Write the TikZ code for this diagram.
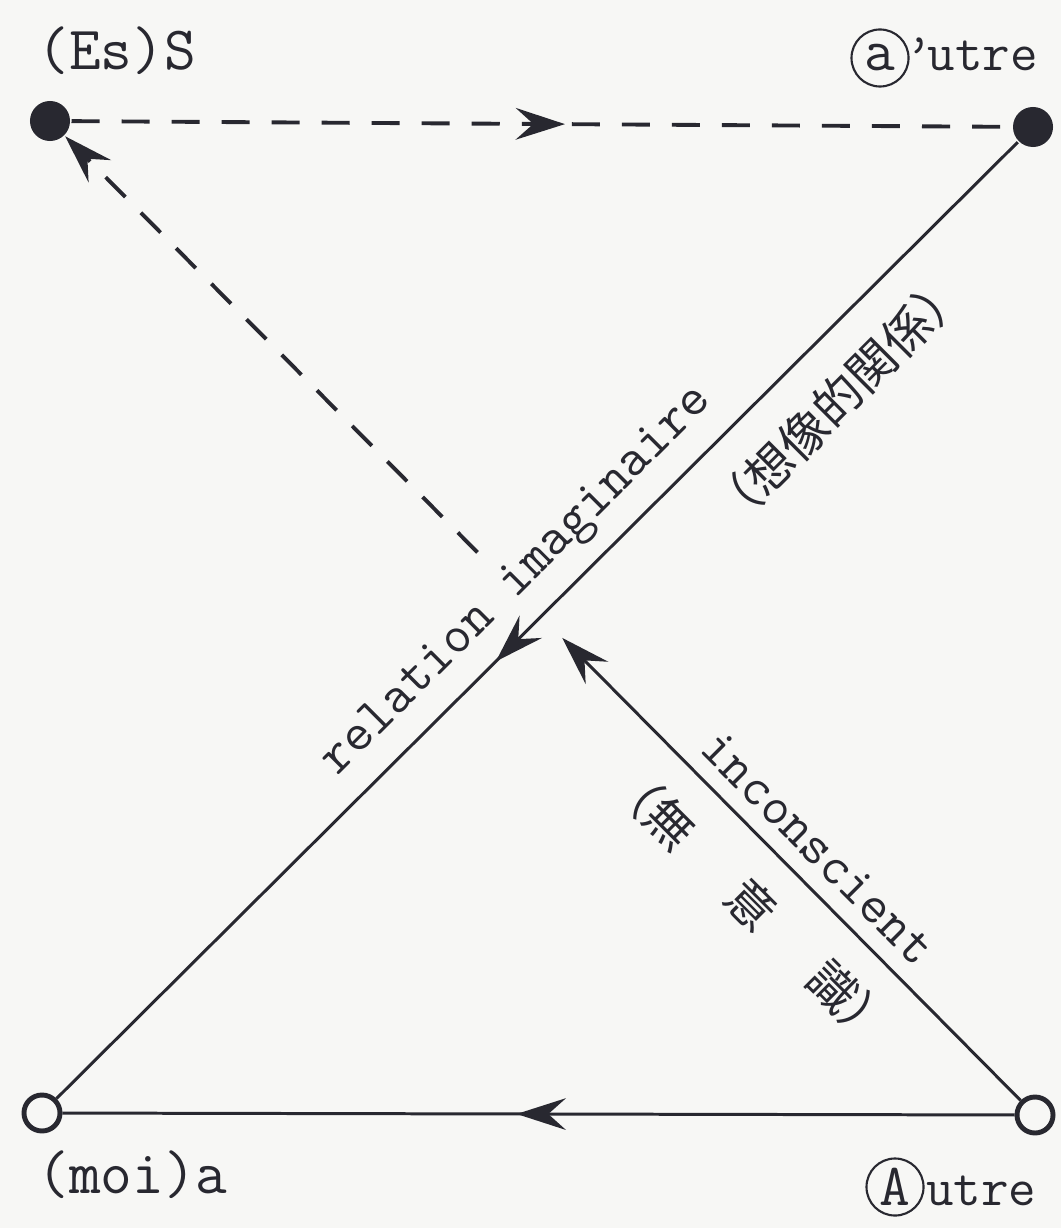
\documentclass[tikz,border=0pt]{standalone}
\usepackage{fontspec}
\newfontfamily\jfont{Noto Sans CJK JP}
\usetikzlibrary{arrows.meta,decorations.markings,calc}
\definecolor{ink}{RGB}{40,40,48}
\definecolor{paper}{RGB}{247,247,245}

\begin{document}
\begin{tikzpicture}[x=0.01cm, y=-0.01cm, line width=0.85pt, color=ink,
	dotfull/.style={circle, fill=ink, minimum size=0.4cm, inner sep=0pt},
	dotopen/.style={circle, draw=ink, line width=1.4pt, minimum size=0.36cm, inner sep=0pt},
	ring/.style={circle, draw=ink, line width=0.6pt, minimum size=0.57cm, inner sep=0pt,
		font=\fontsize{17}{20}\selectfont\ttfamily},
	corner/.style={font=\fontsize{17.5}{20}\selectfont\ttfamily, inner sep=0pt},
	ringword/.style={font=\fontsize{15.2}{18}\selectfont\ttfamily, inner sep=0pt},
	lineword/.style={font=\fontsize{15.4}{18}\selectfont\ttfamily, inner sep=0pt},
	kanji/.style={font=\fontsize{13.7}{16}\selectfont\jfont, inner sep=0pt},
	dashline/.style={dash pattern=on 0.28cm off 0.22cm, line width=1.1pt},
	barb/.tip={Stealth[length=14pt, width=9pt, inset=5pt]},
	midarrow/.style={postaction={decorate},
		decoration={markings, mark=at position #1 with {\arrow{barb}}}}]
	\fill[paper] (0,0) rectangle (1061,1228);
	\useasboundingbox (0,0) rectangle (1061,1228);
	% the four corners
	\node[dotfull] (S) at (50,121) {};
	\node[dotfull] (aut) at (1033,127) {};
	\node[dotopen] (moi) at (42,1113) {};
	\node[dotopen] (Aut) at (1035,1115) {};
	\node[corner, anchor=base west] (lblS) at (36,70) {(Es)S};
	\node[ring] (ringa) at (880,58) {a};
	\node[ringword, anchor=base west] (lblaut) at (ringa.base east) {\kern-0.1em’\kern-0.1em utre};
	\node[corner, anchor=base west] (lblmoi) at (36,1193) {(moi)a};
	\node[ring] (ringA) at (895,1187) {A};
	\node[ringword, anchor=base west] (lblAut) at (ringA.base east) {utre};
	% imaginary axis and the others
	\draw[dashline, midarrow=0.525] (S) -- (aut);
	\draw[midarrow=0.543] (aut) -- (moi);
	\draw[midarrow=0.523] (Aut) -- (moi);
	% unconscious line, cut where it meets the imaginary one
	\coordinate (cutA) at ($(Aut)!0.48!(S)$);
	\coordinate (cutS) at ($(Aut)!0.566!(S)$);
	\draw[-barb] (Aut) -- (cutA);
	\draw[dashline, -barb] (cutS) -- (S);
	% words along the lines
	\node[lineword, rotate=45] (rel) at (518,582) {relation imaginaire};
	\node[kanji, rotate=45] (relj) at (838,400) {（想像的関係）};
	\node[lineword, rotate=-45] (inc) at (818,848) {inconscient};
	\node[kanji, rotate=-45] (incj) at (752,905) {（無\hspace{1.4em}意\hspace{1.4em}識）};
\end{tikzpicture}
\end{document}
